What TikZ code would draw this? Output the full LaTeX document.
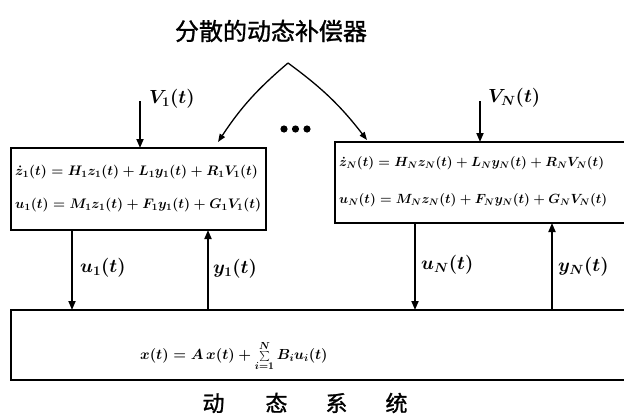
\documentclass[tikz,border=0pt]{standalone}
\usepackage{fix-cm}
\usepackage{fontspec}
\newfontfamily\cjk[FakeBold=1.2]{Noto Sans CJK SC}
\usetikzlibrary{arrows.meta}
\begin{document}
\begin{tikzpicture}[x=1pt,y=-1pt,
  box/.style={draw,line width=2.2pt,inner sep=0pt,outer sep=0pt},
  arr/.style={line width=1.8pt,-{Triangle[length=9pt,width=7pt]}},
  eqtext/.style={anchor=west,inner sep=0pt,font=\fontsize{13.8}{17}\selectfont\boldmath},
  lab/.style={anchor=west,inner sep=0pt,font=\fontsize{19}{22}\selectfont\boldmath},
  cjktext/.style={inner sep=0pt,font=\cjk\fontsize{24}{26}\selectfont}]
\useasboundingbox (0,0) rectangle (624,418);
\clip (0,0) rectangle (624,418);
\fill[white] (0,0) rectangle (624,418);

% boxes
\node[box,minimum width=255pt,minimum height=82pt] (lb) at (138.5,189) {};
\node[box,minimum width=305pt,minimum height=81pt] (rb) at (487.5,182.5) {};
\node[box,minimum width=629pt,minimum height=70pt] (sys) at (325.5,345) {};

% box texts
\node[eqtext] (l1) at (15,172) {$\dot z_1(t)=H_1z_1(t)+L_1y_1(t)+R_1V_1(t)$};
\node[eqtext] (l2) at (15,205) {$u_1(t)=M_1z_1(t)+F_1y_1(t)+G_1V_1(t)$};
\node[eqtext,font=\fontsize{13.3}{16}\selectfont\boldmath] (r1) at (339,163) {$\dot z_N(t)=H_Nz_N(t)+L_Ny_N(t)+R_NV_N(t)$};
\node[eqtext,font=\fontsize{13.3}{16}\selectfont\boldmath] (r2) at (339,200) {$u_N(t)=M_Nz_N(t)+F_Ny_N(t)+G_NV_N(t)$};
\node[eqtext,font=\fontsize{14.6}{17}\selectfont\boldmath] (eq) at (140,356) {$x(t)=A\,x(t)+\sum\limits_{i=1}^{N}B_iu_i(t)$};

% title and caption
\node[cjktext] (title) at (271,31) {分散的动态补偿器};
\node[cjktext,font=\cjk\fontsize{22}{24}\selectfont] (cap) at (305,403) {动\hspace{41pt}态\hspace{38pt}系\hspace{38pt}统};

% inputs
\coordinate (v1) at (140,101);
\draw[arr] (v1) -- (v1 |- lb.north);
\node[lab] (v1l) at (149,99) {$V_1(t)$};
\coordinate (vN) at (480,101);
\draw[arr] (vN) -- (vN |- rb.north);
\node[lab] (vNl) at (488,98) {$V_N(t)$};

% compensator arrows
\coordinate (apex) at (288,63);
\coordinate (c1) at (218,0);
\coordinate (c2) at (367,0);
\draw[line width=1.3pt,-{Triangle[length=8pt,width=6pt]}] (apex) to[bend right=8] ([yshift=6pt]c1 |- lb.north);
\draw[line width=1.3pt,-{Triangle[length=8pt,width=6pt]}] (apex) to[bend left=8] ([yshift=2pt]c2 |- rb.north);
\fill (284,129) circle (3.6pt) (295.5,129) circle (3.6pt) (307,129) circle (3.6pt);

% feedback arrows
\coordinate (xu1) at (72,0);
\coordinate (xy1) at (208,0);
\coordinate (xuN) at (415,0);
\coordinate (xyN) at (552,0);
\draw[arr] (xu1 |- lb.south) -- (xu1 |- sys.north);
\draw[arr] (xy1 |- sys.north) -- (xy1 |- lb.south);
\draw[arr] (xuN |- rb.south) -- (xuN |- sys.north);
\draw[arr] (xyN |- sys.north) -- (xyN |- rb.south);
\node[lab] (u1l) at (80,268) {$u_1(t)$};
\node[lab] (y1l) at (213,269) {$y_1(t)$};
\node[lab] (uNl) at (421,265) {$u_N(t)$};
\node[lab] (yNl) at (558,267) {$y_N(t)$};
\end{tikzpicture}
\end{document}
